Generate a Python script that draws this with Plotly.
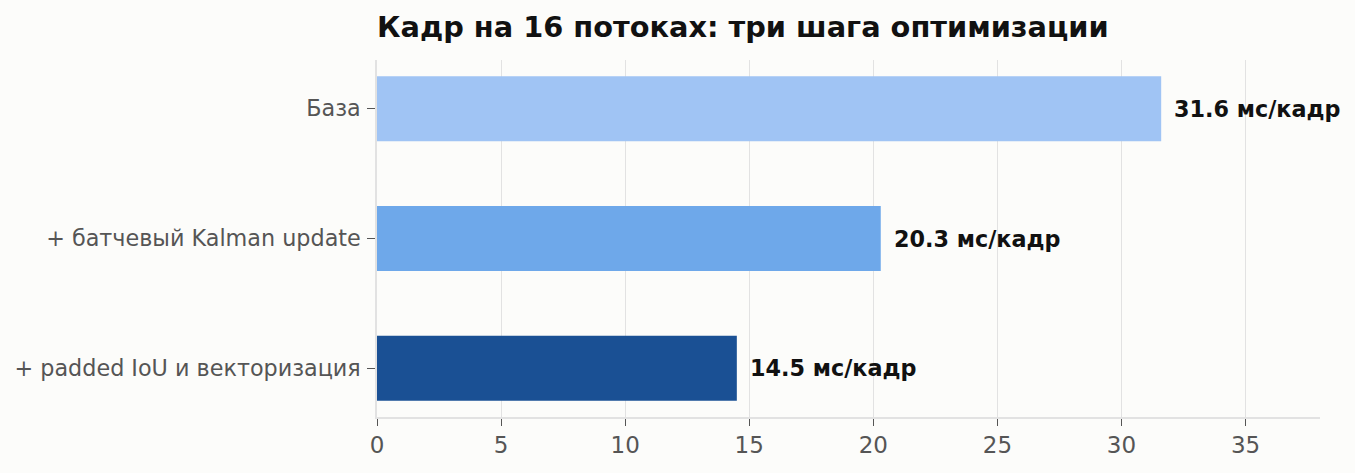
import plotly.graph_objects as go

categories = ["База", "+ батчевый Kalman update", "+ padded IoU и векторизация"]
values = [31.6, 20.3, 14.5]
labels = ["31.6 мс/кадр", "20.3 мс/кадр", "14.5 мс/кадр"]
colors = ["#a0c4f4", "#6ea8ea", "#1a5094"]
x_ticks = [0, 5, 10, 15, 20, 25, 30, 35]

fig = go.Figure()
fig.add_trace(go.Bar(
    x=values, y=categories, orientation="h",
    marker=dict(color=colors, line=dict(width=0)),
    width=0.5, showlegend=False, hoverinfo="skip",
))
for c, v, t in zip(categories, values, labels):
    fig.add_annotation(x=v, y=c, text="<b>" + t + "</b>", showarrow=False,
                       xanchor="left", yanchor="middle", xshift=11,
                       font=dict(family="DejaVu Sans", size=22.3, color="#111111"))

fig.update_layout(
    width=1355, height=473,
    margin=dict(l=377, r=35, t=60, b=56),
    paper_bgcolor="#fcfcfa", plot_bgcolor="#fcfcfa",
    font=dict(family="DejaVu Sans", color="#555555"),
    title=dict(text="<b>Кадр на 16 потоках: три шага оптимизации</b>",
               x=377/1355, xanchor="left", y=1 - 27/473, yanchor="middle",
               font=dict(family="DejaVu Sans", size=28.8, color="#111111")),
    bargap=0.5,
)
fig.update_xaxes(range=[0, 38], tickvals=x_ticks, showgrid=True, gridcolor="#e2e2e2",
                 gridwidth=1, zeroline=False, showline=True, linecolor="#e2e2e2", linewidth=1.5,
                 ticks="outside", ticklen=7, tickcolor="#555555", tickwidth=1,
                 tickfont=dict(family="DejaVu Sans", size=23, color="#555555"))
fig.update_yaxes(range=[2.375, -0.375], categoryorder="array", categoryarray=categories,
                 showgrid=False, zeroline=False, showline=True, linecolor="#e2e2e2", linewidth=1.5,
                 ticks="outside", ticklen=8, tickcolor="#555555", tickwidth=1,
                 ticklabelstandoff=2,
                 tickfont=dict(family="DejaVu Sans", size=22.3, color="#555555"))

fig.write_html("out.html")
